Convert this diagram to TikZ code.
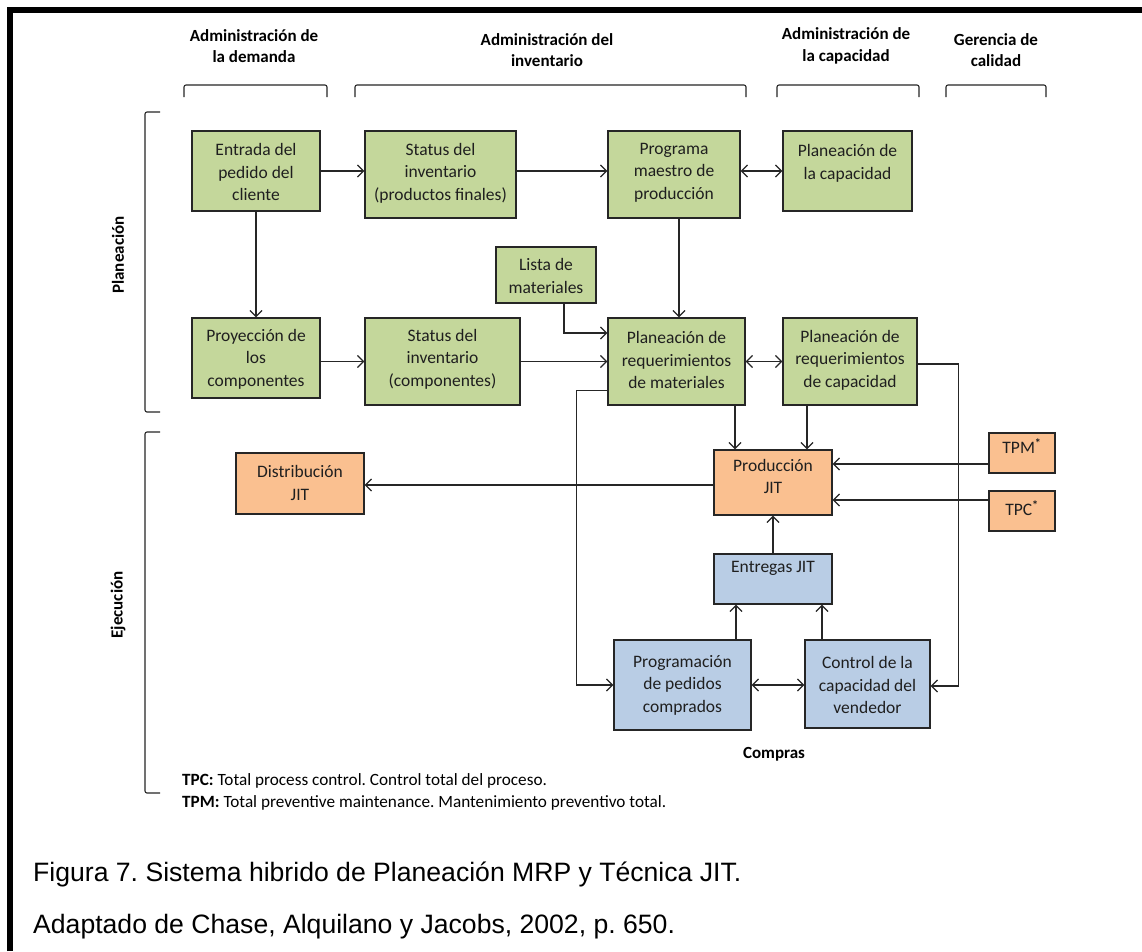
\documentclass[tikz,border=0pt]{standalone}
\usepackage{fontspec}
\setmainfont{Carlito}
\newfontfamily\capfont{Liberation Sans}
\usetikzlibrary{arrows.meta}
\definecolor{boxgreen}{RGB}{196,215,155}
\definecolor{boxorange}{RGB}{250,192,144}
\definecolor{boxblue}{RGB}{185,205,229}
\definecolor{edge}{RGB}{38,38,38}
\frenchspacing
\begin{document}
\begin{tikzpicture}[x=1pt,y=-1pt,
  box/.style={draw=edge, line width=1.4pt, inner sep=0pt},
  gbox/.style={box, fill=boxgreen},
  obox/.style={box, fill=boxorange},
  bbox/.style={box, fill=boxblue},
  txt/.style={align=center, inner sep=0pt, text=black!88, font=\fontsize{17.5}{22.5}\selectfont},
  head/.style={align=center, inner sep=0pt, font=\bfseries\fontsize{17}{21.5}\selectfont},
  link/.style={draw=edge, line width=1.2pt, -{Straight Barb[length=6pt,width=12pt]}},
  dlink/.style={draw=edge, line width=1.2pt, {Straight Barb[length=6pt,width=12pt]}-{Straight Barb[length=6pt,width=12pt]}},
  brace/.style={draw=edge, line width=1.1pt, rounded corners=2pt},
  note/.style={anchor=west, inner sep=0pt, font=\fontsize{17.2}{20}\selectfont},
  caption/.style={anchor=base west, inner sep=0pt, font=\capfont\fontsize{26.6}{30}\selectfont},
]
\useasboundingbox (0,0) rectangle (1142,951);
\fill[white] (0,0) rectangle (1142,951);

% outer frame (top and left edges)
\draw[line width=6pt] (10,951) -- (10,10) -- (1142,10);

% column headings
\node[head] (h1) at (254,46) {Administración de\\la demanda};
\node[head] (h2) at (547,50) {Administración del\\inventario};
\node[head] (h3) at (846,46) {Administración de\\la capacidad};
\node[head] (h4) at (996,50) {Gerencia de\\calidad};
\draw[brace] (184,97) -- (184,85) -- (327,85) -- (327,97);
\draw[brace] (355,97) -- (355,85) -- (746,85) -- (746,97);
\draw[brace] (777,97) -- (777,85) -- (919,85) -- (919,97);
\draw[brace] (946,97) -- (946,85) -- (1046,85) -- (1046,97);

% row headings
\draw[brace] (160,112) -- (145,112) -- (145,412) -- (160,412);
\draw[brace] (160,432) -- (145,432) -- (145,793) -- (160,793);
\node[head, rotate=90] (rplan) at (118,255) {Planeación};
\node[head, rotate=90] (rejec) at (118,605) {Ejecución};

% planning boxes
\node[gbox, minimum width=128, minimum height=80] (entrada) at (256,171) {};
\node[txt] (entrada-t) at (256,172) {Entrada del\\pedido del\\cliente};
\node[gbox, minimum width=151, minimum height=87] (statpf) at (440.5,174.5) {};
\node[txt] (statpf-t) at (440.5,173) {Status del\\inventario\\(productos finales)};
\node[gbox, minimum width=132, minimum height=87] (programa) at (674,174.5) {};
\node[txt] (programa-t) at (674,172.5) {Programa\\maestro de\\producción};
\node[gbox, minimum width=129, minimum height=80] (plancap) at (847.5,171) {};
\node[txt] (plancap-t) at (847.5,163.5) {Planeación de\\la capacidad};
\node[gbox, minimum width=100, minimum height=56] (lista) at (546,275) {};
\node[txt] (lista-t) at (546,276) {Lista de\\materiales};
\node[gbox, minimum width=128, minimum height=80] (proy) at (256,358) {};
\node[txt] (proy-t) at (256,359) {Proyección de\\los\\componentes};
\node[gbox, minimum width=155, minimum height=87] (statcomp) at (442.5,361.5) {};
\node[txt] (statcomp-t) at (442.5,359) {Status del\\inventario\\(componentes)};
\node[gbox, minimum width=137, minimum height=87] (prm) at (676.5,361.5) {};
\node[txt] (prm-t) at (676.5,360) {Planeación de\\requerimientos\\de materiales};
\node[gbox, minimum width=134, minimum height=87] (prc) at (850,361.5) {};
\node[txt] (prc-t) at (850,360) {Planeación de\\requerimientos\\de capacidad};

% execution boxes
\node[obox, minimum width=128, minimum height=61] (dist) at (300,483.5) {};
\node[txt] (dist-t) at (300,483) {Distribución\\JIT};
\node[obox, minimum width=118, minimum height=65] (prod) at (773,482.5) {};
\node[txt] (prod-t) at (773,476.5) {Producción\\JIT};
\node[obox, minimum width=66, minimum height=40] (tpm) at (1022,453) {};
\node[txt] (tpm-t) at (1022,446) {TPM\textsuperscript{\textbf{*}}};
\node[obox, minimum width=66, minimum height=40] (tpc) at (1022,511) {};
\node[txt] (tpc-t) at (1022,508) {TPC\textsuperscript{\textbf{*}}};
\node[bbox, minimum width=118, minimum height=50] (entregas) at (773,579) {};
\node[txt] (entregas-t) at (773,568) {Entregas JIT};
\node[bbox, minimum width=137, minimum height=90] (progped) at (682.5,685) {};
\node[txt] (progped-t) at (682.5,685) {Programación\\de pedidos\\comprados};
\node[bbox, minimum width=125, minimum height=88] (control) at (867.5,684) {};
\node[txt] (control-t) at (867.5,685) {Control de la\\capacidad del\\vendedor};
\node[head] (compras) at (774,754) {Compras};

% connectors, planning level
\draw[link] (entrada.east) -- (entrada.east -| statpf.west);
\draw[link] (statpf.east |- entrada.east) -- (programa.west |- entrada.east);
\draw[dlink] (programa.east |- plancap.west) -- (plancap.west);
\draw[link] (entrada.south) -- (proy.north);
\draw[link] ([xshift=5]programa.south) -- ([xshift=5]programa.south |- prm.north);
\draw[link] ([xshift=18]lista.south) |- ([yshift=28.5]prm.west);
\draw[link] (proy.east |- statcomp.west) -- (statcomp.west);
\draw[link] (statcomp.east) -- (prm.west);
\draw[dlink] (prm.east) -- (prc.west);

% connectors, execution level
\draw[link] ([xshift=-38]prod.north |- prm.south) -- ([xshift=-38]prod.north);
\draw[link] ([xshift=34]prod.north |- prc.south) -- ([xshift=34]prod.north);
\draw[link] ([yshift=-2.5]prc.east) -- ++(41,0) |- ([yshift=-2]control.east);
\draw[link] ([yshift=-29]prm.west) -- ++(-31,0) |- (progped.west);
\draw[link] ([yshift=-2.5]prod.west) -- ([yshift=-2.5]prod.west -| dist.east);
\draw[link] ([yshift=-11]tpm.west) -- ([yshift=-11]tpm.west -| prod.east);
\draw[link] ([yshift=11]tpc.west) -- ([yshift=11]tpc.west -| prod.east);
\draw[link] (entregas.north) -- (prod.south);
\draw[link] ([xshift=-37]entregas.south |- progped.north) -- ([xshift=-37]entregas.south);
\draw[link] ([xshift=49]entregas.south |- control.north) -- ([xshift=49]entregas.south);
\draw[dlink] (progped.east) -- (progped.east -| control.west);

% footnotes
\node[note] (fn1) at (182,781) {\textbf{TPC:} Total process control. Control total del proceso.};
\node[note] (fn2) at (182,803) {\textbf{TPM:} Total preventive maintenance. Mantenimiento preventivo total.};

% caption
\node[caption] (cap1) at (33,881) {Figura 7. Sistema hibrido de Planeación MRP y Técnica JIT.};
\node[caption] (cap2) at (33,933) {Adaptado de Chase, Alquilano y Jacobs, 2002, p. 650.};
\end{tikzpicture}
\end{document}
